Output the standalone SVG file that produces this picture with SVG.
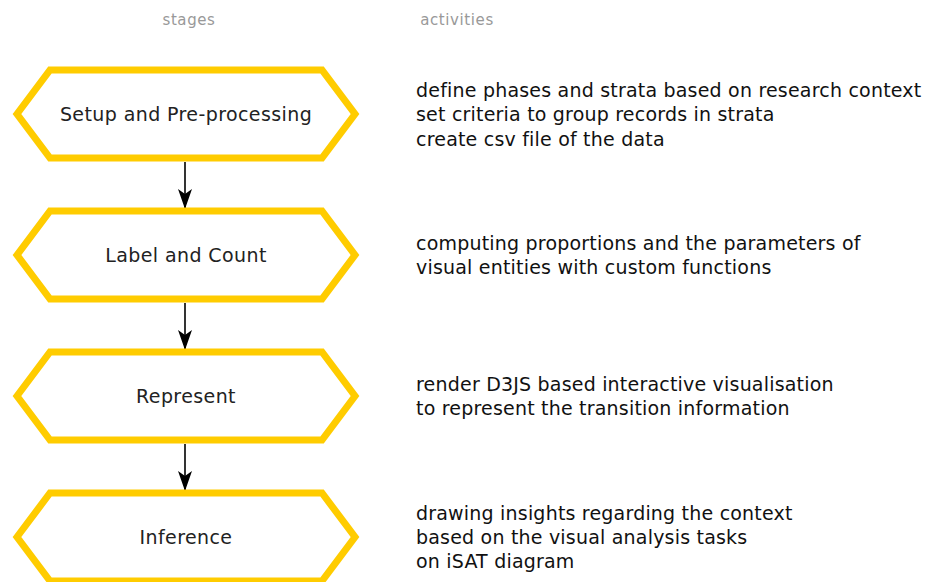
<svg xmlns="http://www.w3.org/2000/svg" width="928" height="582" viewBox="0 0 928 582">
<style>
.hex{fill:#fff;stroke:#FFCC00;stroke-width:7;stroke-linejoin:miter}
.lbl{font-family:"DejaVu Sans",sans-serif;font-size:19px;letter-spacing:0.4px;fill:#222;text-anchor:middle}
.act{font-family:"DejaVu Sans",sans-serif;font-size:19px;letter-spacing:0.2px;fill:#111}
.hdr{font-family:"DejaVu Sans",sans-serif;font-size:15px;letter-spacing:0.6px;fill:#999;text-anchor:middle}
.con{stroke:#000;stroke-width:1.6;fill:none}
</style>
<defs>
<marker id="ah" markerWidth="20" markerHeight="14" refX="20" refY="7" orient="auto" markerUnits="userSpaceOnUse">
<path d="M0,0 L20,7 L0,14 L5,7 Z" fill="#000"/>
</marker>
</defs>
<rect width="928" height="582" fill="#fff"/>
<text class="hdr" x="189" y="25">stages</text>
<text class="hdr" x="457" y="25">activities</text>
<g id="connectors">
<line class="con" x1="185" y1="162" x2="185" y2="209" marker-end="url(#ah)"/>
<line class="con" x1="185" y1="303" x2="185" y2="350" marker-end="url(#ah)"/>
<line class="con" x1="185" y1="444" x2="185" y2="491" marker-end="url(#ah)"/>
</g>
<g id="setup">
<polygon class="hex" points="17,114 50,70 322,70 355,114 322,158 50,158"/>
<text class="lbl" x="186" y="121">Setup and Pre-processing</text>
</g>
<g id="label-count">
<polygon class="hex" points="17,255 50,211 322,211 355,255 322,299 50,299"/>
<text class="lbl" x="186" y="262">Label and Count</text>
</g>
<g id="represent">
<polygon class="hex" points="17,396 50,352 322,352 355,396 322,440 50,440"/>
<text class="lbl" x="186" y="403">Represent</text>
</g>
<g id="inference">
<polygon class="hex" points="17,537 50,493 322,493 355,537 322,581 50,581"/>
<text class="lbl" x="186" y="544">Inference</text>
</g>
<g id="activities">
<text class="act" x="416" y="97">define phases and strata based on research context</text>
<text class="act" x="416" y="121">set criteria to group records in strata</text>
<text class="act" x="416" y="146">create csv file of the data</text>
<text class="act" x="416" y="250">computing proportions and the parameters of</text>
<text class="act" x="416" y="274">visual entities with custom functions</text>
<text class="act" x="416" y="391">render D3JS based interactive visualisation</text>
<text class="act" x="416" y="415">to represent the transition information</text>
<text class="act" x="416" y="520">drawing insights regarding the context</text>
<text class="act" x="416" y="544">based on the visual analysis tasks</text>
<text class="act" x="416" y="568">on iSAT diagram</text>
</g>
</svg>
